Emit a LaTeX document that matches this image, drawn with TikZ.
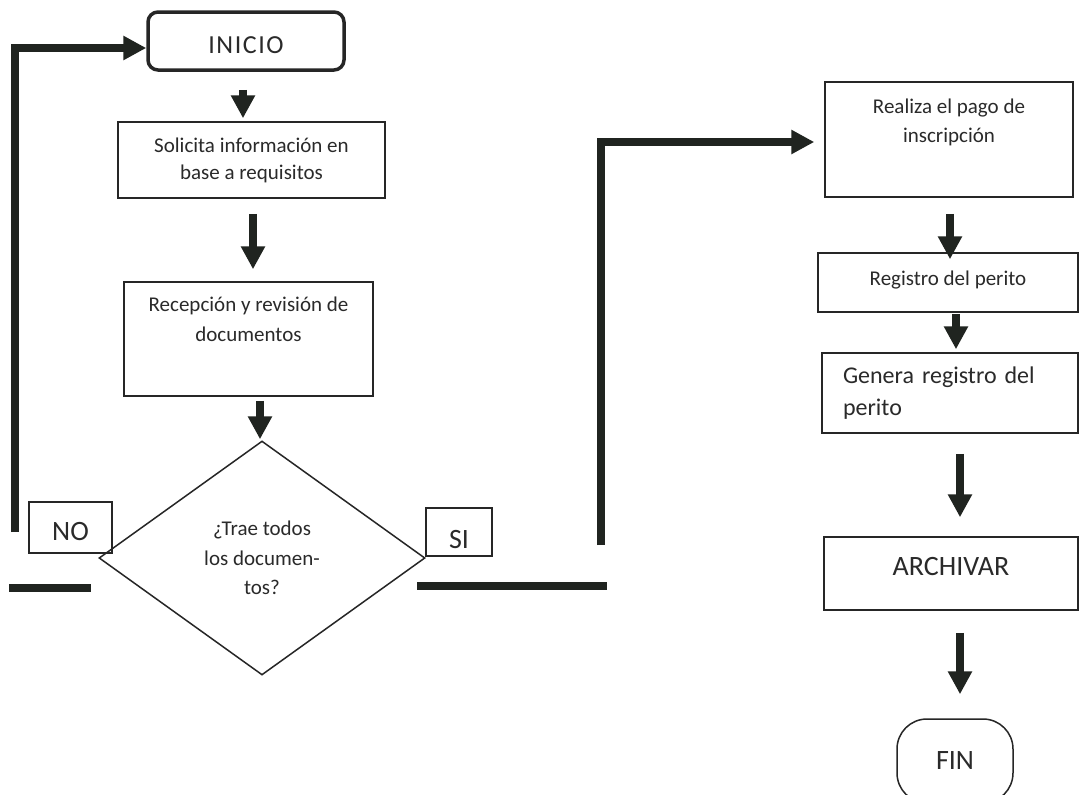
\documentclass[tikz,border=0pt]{standalone}
\usepackage{fontspec}
\setmainfont{Carlito}
\usetikzlibrary{arrows.meta,shapes.geometric,calc}
\definecolor{ink}{RGB}{42,42,42}
\definecolor{boxline}{RGB}{38,38,38}
\definecolor{arrowink}{RGB}{32,36,32}
\begin{document}
\begin{tikzpicture}[x=1pt,y=-1pt,
  procbox/.style={draw=boxline, line width=1.5pt, rectangle, inner sep=0pt,
    align=center, text=ink, font=\fontsize{21}{27}\selectfont},
  startbox/.style={draw=boxline, line width=3.5pt, rectangle, rounded corners=10pt,
    inner sep=0pt, text=ink, font=\fontsize{26}{30}\selectfont\addfontfeatures{LetterSpace=6}},
  endbox/.style={draw=boxline, line width=1.5pt, rectangle, rounded corners=30pt,
    inner sep=0pt, text=ink, font=\fontsize{28}{32}\selectfont},
  decision/.style={diamond, draw=boxline, line width=1.5pt, inner sep=0pt,
    align=center, text=ink, font=\fontsize{21}{29.5}\selectfont},
  tagbox/.style={draw=boxline, line width=1.5pt, rectangle, inner sep=0pt,
    text=ink, font=\fontsize{28}{32}\selectfont},
  blockarrow/.style={draw=arrowink, line width=8pt, line join=miter,
    -{Triangle[length=23pt,width=23pt]}},
  thickline/.style={draw=arrowink, line width=8pt},
]
\fill[white] (0,0) rectangle (1080,795);
\useasboundingbox (0,0) rectangle (1080,795);

% left column
\node[startbox, minimum width=196pt, minimum height=58pt,
      text height=25pt, text depth=0pt] (inicio) at (246,41) {INICIO};
\node[procbox, minimum width=267pt, minimum height=76pt] (sol) at (251.5,160)
  {Solicita información en\\base a requisitos};
\node[procbox, minimum width=249pt, minimum height=114pt,
      font=\fontsize{21}{30}\selectfont] (rec) at (248.5,339)
  {Recepción y revisión de\\documentos\\\strut};
\node[decision, minimum width=326pt, minimum height=234pt] (dia) at (262,558)
  {¿Trae todos\\los documen-\\tos?};
\node[tagbox, minimum width=83pt, minimum height=51pt,
      text height=25pt, text depth=0pt] (no) at (70.5,527.5) {NO};
\node[tagbox, minimum width=66pt, minimum height=48pt,
      text height=33pt, text depth=0pt] (si) at (459,532) {SI};

% right column
\node[procbox, minimum width=248pt, minimum height=115pt,
      font=\fontsize{21}{29}\selectfont] (realiza) at (949,139.5)
  {Realiza el pago de\\inscripción\\\strut};
\node[procbox, minimum width=260pt, minimum height=59pt,
      text height=16pt, text depth=9.4pt] (reg) at (948,282.5)
  {Registro del perito};
\node[procbox, minimum width=256pt, minimum height=80pt, text width=214pt,
      align=left, font=\fontsize{24}{32}\selectfont] (gen) at (950,393)
  {Genera registro del\\perito};
\node[procbox, minimum width=254pt, minimum height=73pt,
      font=\fontsize{28}{32}\selectfont, text height=18pt, text depth=14.6pt] (arch) at (951,573.5)
  {ARCHIVAR};
\node[endbox, minimum width=116pt, minimum height=84pt] (fin) at (955,761) {FIN};

% downward flow arrows
\draw[blockarrow, shorten <=18pt, shorten >=3pt]
  ([xshift=-3pt]inicio.south) -- ([xshift=-3pt]inicio.south |- sol.north);
\draw[blockarrow, shorten <=15pt, shorten >=12pt]
  ([xshift=1.5pt]sol.south) -- ([xshift=1.5pt]sol.south |- rec.north);
\draw[blockarrow, shorten <=4pt, shorten >=1pt]
  ([xshift=11.5pt]rec.south) -- ([xshift=11.5pt]rec.south |- dia.north);
\draw[blockarrow, shorten <=16pt, shorten >=-7pt]
  ([xshift=1pt]realiza.south) -- ([xshift=1pt]realiza.south |- reg.north);
\draw[blockarrow, shorten <=1pt, shorten >=3pt]
  ([xshift=8pt]reg.south) -- ([xshift=8pt]reg.south |- gen.north);
\draw[blockarrow, shorten <=20pt, shorten >=19pt]
  ([xshift=10pt]gen.south) -- ([xshift=10pt]gen.south |- arch.north);
\draw[blockarrow, shorten <=22pt, shorten >=24pt]
  ([xshift=9pt]arch.south) -- ([xshift=9pt]arch.south |- fin.north);

% NO branch: back to the start
\coordinate (nofoot) at (15,532);
\draw[blockarrow] (nofoot) |- ($(inicio.west)+(0,7)$);
\coordinate (nostubA) at (9,588);
\coordinate (nostubB) at (91,588);
\draw[thickline] (nostubA) -- (nostubB);

% SI branch: on to the payment
\coordinate (sistubA) at (417,586);
\coordinate (sistubB) at (607,586);
\draw[thickline] (sistubA) -- (sistubB);
\coordinate (sifoot) at (601,545);
\draw[blockarrow, shorten >=10pt] (sifoot) |- ($(realiza.west)+(0,2.5)$);
\end{tikzpicture}
\end{document}
